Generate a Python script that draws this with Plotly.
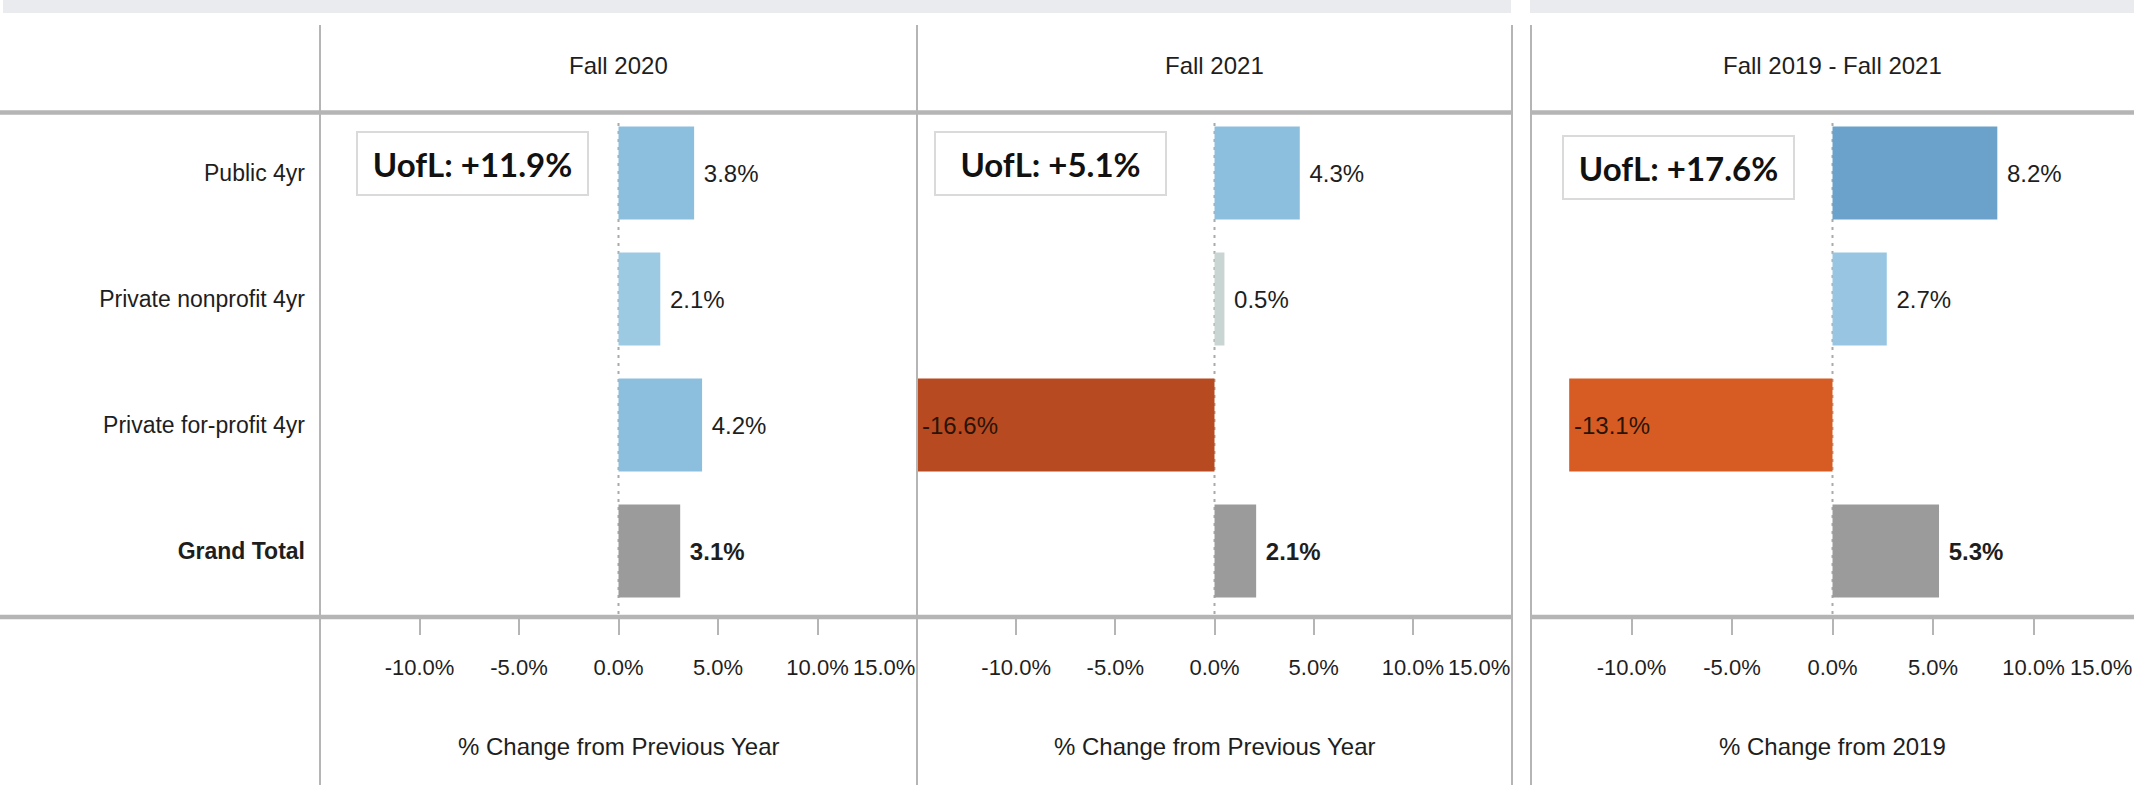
import plotly.graph_objects as go

W, H = 2134, 785

categories = ["Public 4yr", "Private nonprofit 4yr", "Private for-profit 4yr", "Grand Total"]
fall_2020 = [3.8, 2.1, 4.2, 3.1]
fall_2021 = [4.3, 0.5, -16.6, 2.1]
fall_2019_2021 = [8.2, 2.7, -13.1, 5.3]

colors_2020 = ["#8BBFDD", "#9DCAE3", "#8BBFDD", "#9B9B9B"]
colors_2021 = ["#8BBFDD", "#C9D5D2", "#B84A21", "#9B9B9B"]
colors_2019_2021 = ["#6BA2CB", "#98C6E2", "#D75C23", "#9B9B9B"]

panel_titles = ["Fall 2020", "Fall 2021", "Fall 2019 - Fall 2021"]
axis_titles = ["% Change from Previous Year", "% Change from Previous Year", "% Change from 2019"]
uofl_labels = ["UofL: +11.9%", "UofL: +5.1%", "UofL: +17.6%"]

tick_vals = [-10, -5, 0, 5, 10]
tick_text = ["-10.0%", "-5.0%", "0.0%", "5.0%", "10.0%"]
x_range = [-15, 15]

FONT = "Liberation Sans, Arial, sans-serif"
LINE = "#B5B5B5"
TXT = "#1E1E1E"


def px(x):
    return x / W


def py(y):
    return 1 - y / H


domains = [[px(320), px(917)], [px(917), px(1512)], [px(1531), 1.0]]
y_dom = [py(614), py(110)]
series = [fall_2020, fall_2021, fall_2019_2021]
colors = [colors_2020, colors_2021, colors_2019_2021]

fig = go.Figure()
annotations = []
for i, (vals, cols) in enumerate(zip(series, colors)):
    xa = "x" if i == 0 else f"x{i + 1}"
    texts = []
    for cat, v in zip(categories, vals):
        t = f"{v:.1f}%"
        if cat == "Grand Total":
            t = f"<b>{t}</b>"
        if v < 0:
            # label sits inside the bar at its (visible) left end
            annotations.append(dict(text=t, xref=xa, yref="y", x=max(v, x_range[0]), y=cat,
                                    xanchor="left", yanchor="middle", xshift=3, showarrow=False,
                                    font=dict(family=FONT, size=24, color="#2A1408")))
            texts.append("")
        else:
            texts.append(" " + t)
    fig.add_trace(go.Bar(
        x=vals, y=categories, orientation="h", xaxis=xa, yaxis="y",
        marker=dict(color=cols, line=dict(width=0)),
        text=texts, textposition="outside",
        textfont=dict(family=FONT, size=24, color=TXT),
        outsidetextfont=dict(family=FONT, size=24, color=TXT),
        constraintext="none",
        showlegend=False, hoverinfo="skip",
    ))

layout_axes = {}
for i, dom in enumerate(domains):
    key = "xaxis" if i == 0 else f"xaxis{i + 1}"
    layout_axes[key] = dict(
        domain=dom, range=x_range, anchor="y",
        tickvals=tick_vals, ticktext=tick_text,
        ticks="outside", ticklen=20, tickwidth=2, tickcolor=LINE,
        ticklabelstandoff=14,
        tickfont=dict(family=FONT, size=22, color=TXT),
        showgrid=False, zeroline=False, showline=False, fixedrange=True,
    )

fig.update_layout(
    width=W, height=H,
    margin=dict(l=0, r=0, t=0, b=0),
    paper_bgcolor="white", plot_bgcolor="white",
    bargap=0.26,
    yaxis=dict(
        domain=y_dom, anchor="x",
        categoryorder="array", categoryarray=categories,
        range=[3.5, -0.5],
        tickvals=categories,
        ticktext=[f"<b>{c}</b>" if c == "Grand Total" else c for c in categories],
        ticks="", ticklabelstandoff=14,
        tickfont=dict(family=FONT, size=23, color=TXT),
        showgrid=False, zeroline=False, showline=False, fixedrange=True,
    ),
    **layout_axes,
)

shapes = []
# top band
shapes.append(dict(type="rect", xref="paper", yref="paper", x0=px(3), x1=px(1511), y0=py(13), y1=1,
                   fillcolor="#EAEBEF", line=dict(width=0), layer="below"))
shapes.append(dict(type="rect", xref="paper", yref="paper", x0=px(1530), x1=1, y0=py(13), y1=1,
                   fillcolor="#EAEBEF", line=dict(width=0), layer="below"))
# header and axis lines
for yy in [112.5, 617]:
    shapes.append(dict(type="line", xref="paper", yref="paper", x0=0, x1=px(1512), y0=py(yy), y1=py(yy),
                       line=dict(color=LINE, width=4.5), layer="above"))
    shapes.append(dict(type="line", xref="paper", yref="paper", x0=px(1531), x1=1, y0=py(yy), y1=py(yy),
                       line=dict(color=LINE, width=4.5), layer="above"))
# vertical dividers
for xx in [320, 917, 1512, 1531]:
    shapes.append(dict(type="line", xref="paper", yref="paper", x0=px(xx), x1=px(xx), y0=0, y1=py(25),
                       line=dict(color=LINE, width=2), layer="above"))
# dotted zero lines
for i in range(3):
    xa = "x" if i == 0 else f"x{i + 1}"
    shapes.append(dict(type="line", xref=xa, yref="paper", x0=0, x1=0, y0=py(614), y1=py(118),
                       line=dict(color="#AAAAAA", width=2, dash="3px,5px"), layer="below"))
fig.update_layout(shapes=shapes)

centers = [(320 + 917) / 2, (917 + 1512) / 2, (1531 + 2134) / 2]
for i in range(3):
    xa = "x" if i == 0 else f"x{i + 1}"
    annotations.append(dict(text=panel_titles[i], xref="paper", yref="paper", x=px(centers[i]), y=py(66),
                            xanchor="center", yanchor="middle", showarrow=False,
                            font=dict(family=FONT, size=24, color=TXT)))
    annotations.append(dict(text=axis_titles[i], xref=xa + " domain", yref="paper", x=0.5, y=py(746),
                            xanchor="center", yanchor="middle", showarrow=False,
                            font=dict(family=FONT, size=24, color=TXT)))
    annotations.append(dict(text="15.0%", xref=xa, yref="paper", x=x_range[1], y=py(667),
                            xanchor="right", yanchor="middle", showarrow=False,
                            font=dict(family=FONT, size=22, color=TXT)))

box_x = [472.5, 1050, 1678]
box_y = [163.5, 163.5, 168]
for i in range(3):
    annotations.append(dict(text=f"<b>{uofl_labels[i]}</b>", xref="paper", yref="paper",
                            x=px(box_x[i]), y=py(box_y[i]), xanchor="center", yanchor="middle",
                            showarrow=False, width=229, height=61, borderpad=0,
                            bordercolor="#DADADA", borderwidth=2, bgcolor="white",
                            font=dict(family="Lato, Open Sans, sans-serif", size=33, color="#111111")))
fig.update_layout(annotations=annotations)

fig.write_html("out.html", config={"displayModeBar": False},
               post_script="document.body.style.margin='0';")
